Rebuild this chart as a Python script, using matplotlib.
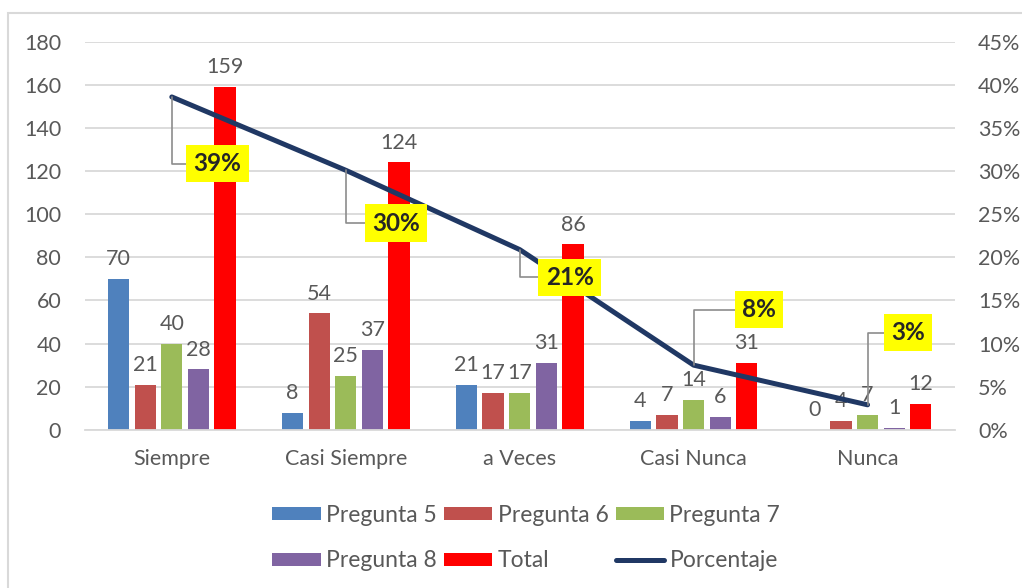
import matplotlib
matplotlib.use("Agg")
import matplotlib.pyplot as plt
import matplotlib.ticker as ticker
import numpy as np

plt.rcParams['font.family'] = ['Lato', 'DejaVu Sans']

# data
categories = ["Siempre", "Casi Siempre", "a Veces", "Casi Nunca", "Nunca"]
pregunta5 = [70, 8, 21, 4, 0]
pregunta6 = [21, 54, 17, 7, 4]
pregunta7 = [40, 25, 17, 14, 7]
pregunta8 = [28, 37, 31, 6, 1]
total = [159, 124, 86, 31, 12]
porcentaje = [0.386, 0.301, 0.209, 0.075, 0.029]
pct_labels = ["39%", "30%", "21%", "8%", "3%"]

series_names = ["Pregunta 5", "Pregunta 6", "Pregunta 7", "Pregunta 8", "Total"]
series_vals = [pregunta5, pregunta6, pregunta7, pregunta8, total]
colors = ["#4F81BD", "#C0504D", "#9BBB59", "#8064A2", "#FF0000"]
txt_color = "#595959"
fs = 15.5

fig = plt.figure(figsize=(10.22, 5.88), dpi=100)
ax = fig.add_axes([0.083, 0.269, 0.851, 0.660])
ax2 = ax.twinx()

# outer chart border (only top/left visible in the reference)
fig.patches.append(plt.Rectangle((8 / 1022, -0.05), 1.1, 1 - 13 / 588 + 0.05,
                                 transform=fig.transFigure, fill=False,
                                 edgecolor="#D9D9D9", lw=1.5))

x = np.arange(len(categories))
pitch = 0.153
width = 0.122
handles = []
for i, (name, vals, c) in enumerate(zip(series_names, series_vals, colors)):
    pos = x + (i - 2) * pitch
    bars = ax.bar(pos, vals, width, color=c, label=name, zorder=2)
    handles.append(bars)
    for p, v in zip(pos, vals):
        ax.annotate(str(v), (p, v), xytext=(0, 7), textcoords="offset points",
                    ha="center", va="bottom", fontsize=fs, color=txt_color)

ax.set_ylim(0, 180)
ax.set_xlim(-0.5, len(categories) - 0.5)
ax.yaxis.set_major_locator(ticker.MultipleLocator(20))
ax.grid(axis="y", color="#D9D9D9", lw=1.3, zorder=0)
ax.set_axisbelow(True)
ax.set_xticks(x)
ax.set_xticklabels(categories)
ax.tick_params(axis="x", length=0, pad=14, labelsize=fs, labelcolor=txt_color)
ax.tick_params(axis="y", length=0, pad=17, labelsize=fs, labelcolor=txt_color)
for s in ax.spines.values():
    s.set_visible(False)
ax.spines["bottom"].set_visible(True)
ax.spines["bottom"].set_color("#D9D9D9")
ax.spines["bottom"].set_linewidth(1.3)

line, = ax2.plot(x, porcentaje, color="#203864", lw=3.6, label="Porcentaje",
                 solid_capstyle="round", zorder=5)
ax2.set_ylim(0, 0.45)
ax2.yaxis.set_major_locator(ticker.MultipleLocator(0.05))
ax2.yaxis.set_major_formatter(ticker.PercentFormatter(1.0, decimals=0))
ax2.tick_params(axis="y", length=0, pad=17, labelsize=fs, labelcolor=txt_color)
for s in ax2.spines.values():
    s.set_visible(False)

# yellow percentage labels with leader lines
offsets = [(33, -48), (36, -38), (36, -20), (47, 40), (29, 52)]
for xi, p, lab, off in zip(x, porcentaje, pct_labels, offsets):
    ax2.annotate(lab, (xi, p), xytext=off, textcoords="offset points",
                 ha="center", va="center", fontsize=17.5, fontweight="bold",
                 color="#262626",
                 bbox=dict(boxstyle="square,pad=0.3", fc="#FFFF00", ec="none"),
                 arrowprops=dict(arrowstyle="-", color="#8C8C8C", lw=1.2,
                                 shrinkA=0, shrinkB=0,
                                 connectionstyle="angle,angleA=0,angleB=90,rad=0"),
                 zorder=6)

leg_handles = [handles[0], handles[3], handles[1], handles[4], handles[2], line]
fig.legend(handles=leg_handles, loc="center", bbox_to_anchor=(0.515, 0.085),
           ncol=3, frameon=False, fontsize=16.5, labelcolor=txt_color,
           handlelength=2.1, handleheight=0.5, columnspacing=0.3,
           handletextpad=0.25, labelspacing=1.08)

fig.savefig("out.png", dpi=100)
